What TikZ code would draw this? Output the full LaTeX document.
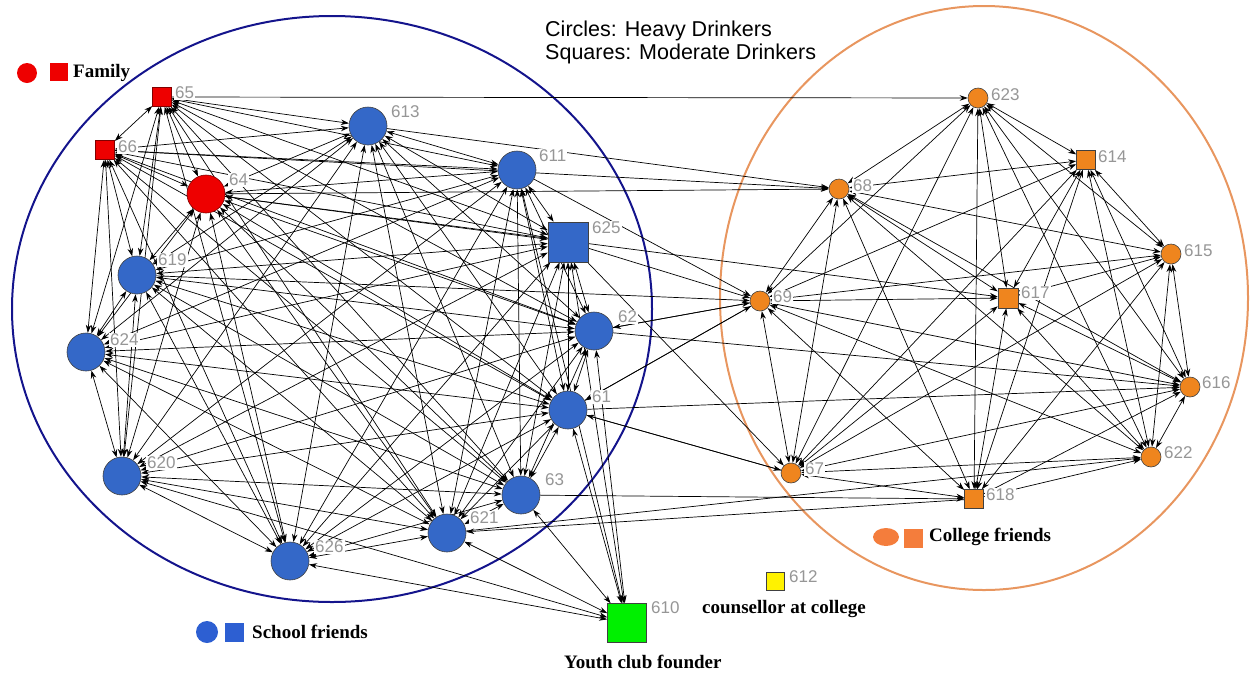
\documentclass[tikz,border=0pt]{standalone}
\usepackage{fontspec}
\setmainfont{Liberation Serif}
\newfontfamily\headfont{Liberation Sans}
\usetikzlibrary{arrows.meta,shapes.geometric}
\pgfdeclarelayer{bg}
\pgfsetlayers{bg,main}
\definecolor{schoolblue}{RGB}{52,104,200}
\definecolor{legblue}{RGB}{45,95,210}
\definecolor{famred}{RGB}{238,0,0}
\definecolor{colorange}{RGB}{239,133,30}
\definecolor{legorange}{RGB}{244,125,60}
\definecolor{ringblue}{RGB}{20,20,140}
\definecolor{ringorange}{RGB}{232,150,95}
\definecolor{clubgreen}{RGB}{0,240,0}
\definecolor{labgray}{RGB}{150,150,150}
\begin{document}
\begin{tikzpicture}[x=1pt,y=-1pt,
  person/.style={circle,draw=black!75,line width=0.6pt,minimum size=38pt,inner sep=0pt},
  smallperson/.style={circle,draw=black!75,line width=0.6pt,minimum size=20pt,inner sep=0pt,fill=colorange},
  boxperson/.style={rectangle,draw=black!75,line width=0.6pt,minimum size=#1,inner sep=0pt},
  numlabel/.style={anchor=west,inner sep=1pt,fill=white,text=labgray,font=\headfont\fontsize{17}{17}\selectfont},
  legtext/.style={anchor=west,inner sep=0pt,font=\bfseries\fontsize{19}{22}\selectfont},
  headtext/.style={anchor=base west,inner sep=0pt,font=\headfont\fontsize{21.5}{23}\selectfont},
  link/.style={line width=0.7pt,arrows={Stealth[length=8pt,width=5.5pt]-Stealth[length=8pt,width=5.5pt]}},
  onelink/.style={line width=0.7pt,arrows={-Stealth[length=8pt,width=5.5pt]}}
]
\useasboundingbox (0,0) rectangle (1253,673);

% school group and family
\node[boxperson=19pt,fill=famred,draw=red!50!black] (n65) at (162,97) {};
\node[boxperson=19pt,fill=famred,draw=red!50!black] (n66) at (105,150) {};
\node[person,fill=famred,draw=red!50!black] (n64) at (206,194) {};
\node[person,fill=schoolblue] (n613) at (368,126) {};
\node[person,fill=schoolblue] (n611) at (517,170) {};
\node[boxperson=40pt,fill=schoolblue] (n625) at (568,242) {};
\node[person,fill=schoolblue] (n62) at (594,331) {};
\node[person,fill=schoolblue] (n61) at (568,410) {};
\node[person,fill=schoolblue] (n63) at (521,495) {};
\node[person,fill=schoolblue] (n621) at (447,533) {};
\node[person,fill=schoolblue] (n626) at (290,561) {};
\node[person,fill=schoolblue] (n620) at (122,476) {};
\node[person,fill=schoolblue] (n624) at (86,352) {};
\node[person,fill=schoolblue] (n619) at (137,275) {};

% youth club founder and counsellor
\node[boxperson=39pt,fill=clubgreen] (n610) at (627,623) {};
\node[boxperson=18pt,fill=yellow] (n612) at (775,581) {};

% college group
\node[smallperson] (n623) at (978,98) {};
\node[boxperson=19pt,fill=colorange] (n614) at (1086,160) {};
\node[smallperson] (n68) at (839,189) {};
\node[smallperson] (n615) at (1171,254) {};
\node[smallperson] (n69) at (760,301) {};
\node[boxperson=20pt,fill=colorange] (n617) at (1008,298) {};
\node[smallperson] (n616) at (1190,387) {};
\node[smallperson] (n622) at (1151,457) {};
\node[smallperson] (n67) at (791,473) {};
\node[boxperson=19pt,fill=colorange] (n618) at (974,499) {};

% node numbers
\node[numlabel] (l65) at (174,93) {65};
\node[numlabel] (l66) at (117,147) {66};
\node[numlabel] (l64) at (228,180) {64};
\node[numlabel] (l613) at (390,112) {613};
\node[numlabel] (l611) at (538,156) {611};
\node[numlabel] (l625) at (591,228) {625};
\node[numlabel] (l62) at (617,317) {62};
\node[numlabel] (l61) at (591,397) {61};
\node[numlabel] (l63) at (544,480) {63};
\node[numlabel] (l621) at (469,518) {621};
\node[numlabel] (l626) at (314,547) {626};
\node[numlabel] (l620) at (146,463) {620};
\node[numlabel] (l624) at (109,340) {624};
\node[numlabel] (l619) at (157,260) {619};
\node[numlabel] (l610) at (650,608) {610};
\node[numlabel] (l612) at (788,577) {612};
\node[numlabel] (l623) at (990,95) {623};
\node[numlabel] (l614) at (1097,157) {614};
\node[numlabel] (l68) at (852,186) {68};
\node[numlabel] (l615) at (1183,251) {615};
\node[numlabel] (l69) at (772,297) {69};
\node[numlabel] (l617) at (1020,293) {617};
\node[numlabel] (l616) at (1201,383) {616};
\node[numlabel] (l622) at (1163,453) {622};
\node[numlabel] (l67) at (804,469) {67};
\node[numlabel] (l618) at (985,495) {618};

% key and legends
\node[headtext] (key1) at (545,36.5) {Circles: Heavy Drinkers};
\node[headtext] (key2) at (545,59.5) {Squares: Moderate Drinkers};

\node[circle,fill=famred,minimum size=20pt,inner sep=0pt] (famc) at (27,73) {};
\node[rectangle,fill=famred,minimum size=18pt,inner sep=0pt] (fams) at (59,72) {};
\node[legtext] (famt) at (73,73) {Family};

\node[circle,fill=legblue,minimum size=22pt,inner sep=0pt] (schc) at (207,632) {};
\node[rectangle,fill=legblue,minimum size=19pt,inner sep=0pt] (schs) at (234,632) {};
\node[legtext] (scht) at (252,632) {School friends};

\node[ellipse,fill=legorange,minimum width=26pt,minimum height=18pt,inner sep=0pt] (colc) at (886,537) {};
\node[rectangle,fill=legorange,minimum size=19pt,inner sep=0pt] (cols) at (913,538) {};
\node[legtext] (colt) at (929,537) {College friends};

\node[legtext] (cnst) at (702,609) {counsellor at college};
\node[legtext] (yct) at (564,662) {Youth club founder};

\begin{pgfonlayer}{bg}
  % group outlines
  \draw[ringblue,line width=2pt] (332,309) ellipse [x radius=320,y radius=293];
  \draw[ringorange,line width=2pt] (984,298) ellipse [x radius=264,y radius=292];

  % ties among school friends and family
  \foreach \a [count=\i] in {n65,n66,n64,n613,n611,n625,n62,n61,n63,n621,n626,n620,n624,n619}{
    \foreach \b [count=\j] in {n65,n66,n64,n613,n611,n625,n62,n61,n63,n621,n626,n620,n624,n619}{
      \ifnum\j>\i \draw[link] (\a) -- (\b); \fi
    }
  }
  % ties among college friends
  \foreach \a [count=\i] in {n623,n614,n68,n615,n69,n617,n616,n622,n67,n618}{
    \foreach \b [count=\j] in {n623,n614,n68,n615,n69,n617,n616,n622,n67,n618}{
      \ifnum\j>\i \draw[link] (\a) -- (\b); \fi
    }
  }
  % ties of the youth club founder
  \foreach \a in {n61,n62,n625,n63,n621,n626,n620,n611}{
    \draw[link] (n610) -- (\a);
  }
  % ties reaching across the two groups
  \foreach \a/\b in {n65/n623,n66/n68,n64/n68,n613/n68,n611/n69,n625/n69,n619/n69,
                     n62/n69,n64/n617,n62/n616,n61/n616,n61/n67,n625/n67,n63/n618,
                     n621/n622,n61/n69}{
    \draw[onelink] (\a) -- (\b);
  }
  \foreach \a/\b in {n69/n62,n69/n61,n67/n61,n618/n621}{
    \draw[onelink] (\a) -- (\b);
  }
\end{pgfonlayer}
\end{tikzpicture}
\end{document}
